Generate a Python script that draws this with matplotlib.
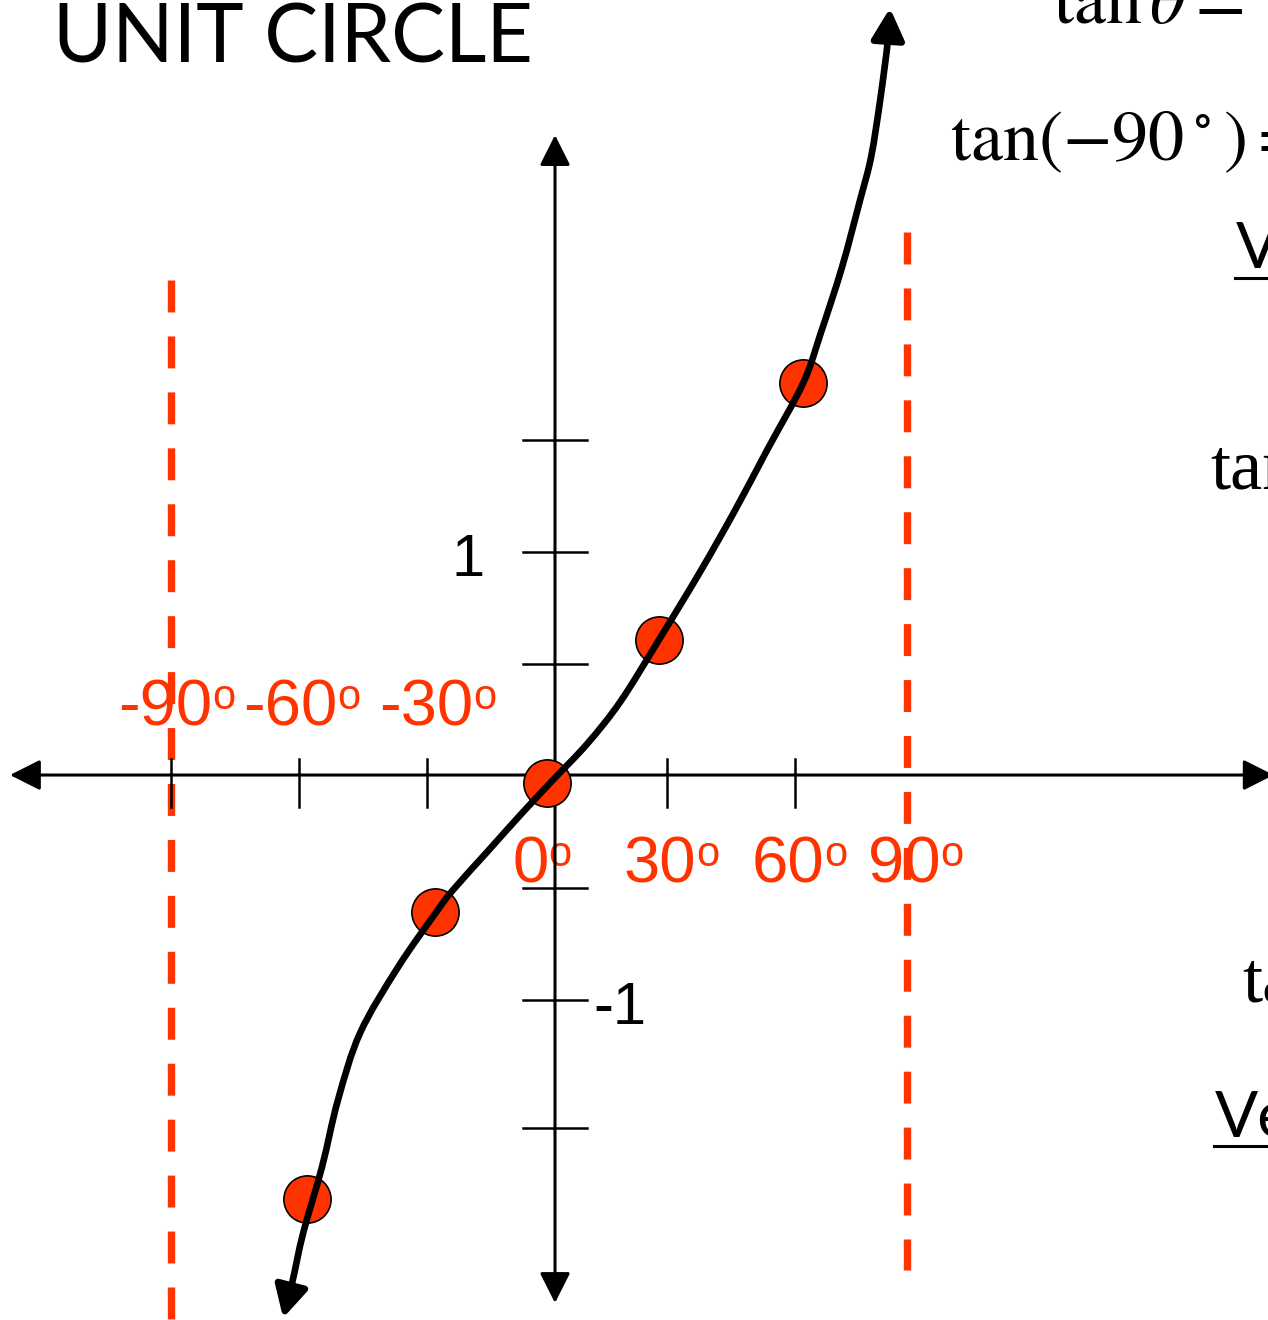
import numpy as np
import matplotlib
matplotlib.use("Agg")
import matplotlib.pyplot as plt
from matplotlib.patches import FancyArrowPatch
from matplotlib.path import Path

# ---------------- data (x in degrees, y in tan units) ----------------
title = "UNIT CIRCLE"
upper_labels = ["-90", "-60", "-30"]
upper_label_x = [-106.7, -76.2, -43.0]
upper_label_y = 0.223
lower_labels = ["0", "30", "60", "90"]
lower_label_x = [-10.5, 16.8, 48.1, 76.4]
lower_label_y = -0.478

point_x = [-60.6, -29.3, -1.95, 25.4, 60.6]
point_y = [-1.893, -0.612, -0.036, 0.603, 1.750]

curve_x = [-66.4, -64.2, -61.5, -56.9, -53.0, -47.6, -38.3, -29.0, -24.9, -16.6,
           -8.5, -0.5, 7.8, 15.9, 25.2, 35.4, 44.0, 51.8, 60.6, 64.9,
           70.1, 74.5, 77.2, 79.4, 81.3, 81.8]
curve_y = [-2.424, -2.268, -2.045, -1.750, -1.451, -1.152, -0.857, -0.612, -0.513,
           -0.344, -0.179, -0.022, 0.138, 0.326, 0.598, 0.906, 1.183,
           1.451, 1.750, 1.973, 2.268, 2.567, 2.760, 3.013, 3.281, 3.424]

xtick_pos = [-93.8, -62.5, -31.3, 27.4, 58.6]
ytick_pos = [1.496, 0.996, 0.496, -0.504, -1.004, -1.576]
ytick_labels = ["1", "-1"]
ytick_label_x = [-25.2, 9.3]
ytick_label_y = [0.888, -1.112]

asymptote_x = [-93.8, 86.0]
asymptote_top = [2.21, 2.424]
asymptote_bottom = [-2.50, -2.21]

xaxis_range = [-133.1, 175.5]
yaxis_range = [-2.357, 2.857]

RED = "#FF3300"

# ---------------- figure ----------------
fig = plt.figure(figsize=(12.68, 13.2), dpi=100)
ax = fig.add_axes([0, 0, 1, 1])
ax.set_xlim(-135.53, 174.11)
ax.set_ylim(-2.433, 3.460)
ax.axis("off")

# asymptotes
for x, t, b in zip(asymptote_x, asymptote_top, asymptote_bottom):
    ax.plot([x, x], [t, b], color=RED, lw=5.3, linestyle=(0, (4.34, 3.26)),
            solid_capstyle="butt", dash_capstyle="butt", zorder=2)

# red angle labels with raised small "o"
def angle_label(x, y, s):
    t = ax.text(x, y, s, color=RED, fontsize=47, family="Liberation Sans",
                ha="left", va="baseline", zorder=1)
    ax.annotate("o", xy=(1, 1), xycoords=t, color=RED, fontsize=30,
                family="Liberation Sans", ha="left", va="top", zorder=1)

for s, x in zip(upper_labels, upper_label_x):
    angle_label(x, upper_label_y, s)
for s, x in zip(lower_labels, lower_label_x):
    angle_label(x, lower_label_y, s)

# axes with arrows
for posA, posB in [((xaxis_range[0], 0), (xaxis_range[1], 0)),
                   ((0, yaxis_range[0]), (0, yaxis_range[1]))]:
    ax.add_patch(FancyArrowPatch(posA, posB,
                 arrowstyle="<|-|>,head_length=1.87,head_width=0.94",
                 mutation_scale=10, lw=2.2, color="black",
                 shrinkA=0, shrinkB=0, zorder=3))

# tick marks
for x in xtick_pos:
    ax.plot([x, x], [0.071, -0.143], color="black", lw=1.8, zorder=3)
for y in ytick_pos:
    ax.plot([-7.8, 7.8], [y, y], color="black", lw=1.8, zorder=3)

for s, x, y in zip(ytick_labels, ytick_label_x, ytick_label_y):
    ax.text(x, y, s, color="black", fontsize=43, family="Liberation Sans",
            ha="left", va="baseline", zorder=3)

# points
ax.plot(point_x, point_y, "o", ms=34, mfc=RED, mec="black", mew=1.2, zorder=4)

# smooth curve through the read points (Catmull-Rom as cubic Bezier segments)
P = np.column_stack([curve_x, curve_y])
verts = [P[0]]
codes = [Path.MOVETO]
n = len(P)
for i in range(n - 1):
    p0 = P[i - 1] if i > 0 else P[i]
    p1, p2 = P[i], P[i + 1]
    p3 = P[i + 2] if i + 2 < n else P[i + 1]
    verts += [p1 + (p2 - p0) / 6.0, p2 - (p3 - p1) / 6.0, p2]
    codes += [Path.CURVE4] * 3
curve_path = Path(np.array(verts), codes)
ax.add_patch(FancyArrowPatch(path=curve_path,
             arrowstyle="<|-|>,head_length=1.9,head_width=1.0",
             mutation_scale=10, lw=4.8, color="black", zorder=5,
             joinstyle="round", capstyle="butt"))

# title
ax.text(-122.6, 3.183, title, fontsize=58, family="Lato", color="black",
        ha="left", va="baseline")

# right-hand (cut off) text
ax.text(121.6, 3.357, r"$\mathrm{tan}\,\theta =$", fontsize=52,
        math_fontfamily="stix", ha="left", va="baseline")
ax.text(96.5, 2.746, r"$\mathrm{tan}(-90\,^{\circ}\,) =$", fontsize=52,
        math_fontfamily="stix", ha="left", va="baseline")
ax.text(160.0, 1.281, "tan", fontsize=52, family="Liberation Serif",
        ha="left", va="baseline")
ax.text(167.8, -1.013, "ta", fontsize=52, family="Liberation Serif",
        ha="left", va="baseline")
ax.text(166.2, 2.263, "V", fontsize=46, family="Lato", ha="left", va="baseline")
ax.plot([166.0, 174.11], [2.219, 2.219], color="black", lw=2.2)
ax.text(161.2, -1.616, "Ve", fontsize=46, family="Lato", ha="left", va="baseline")
ax.plot([161.0, 174.11], [-1.656, -1.656], color="black", lw=2.2)

fig.savefig("out.png", dpi=100)
